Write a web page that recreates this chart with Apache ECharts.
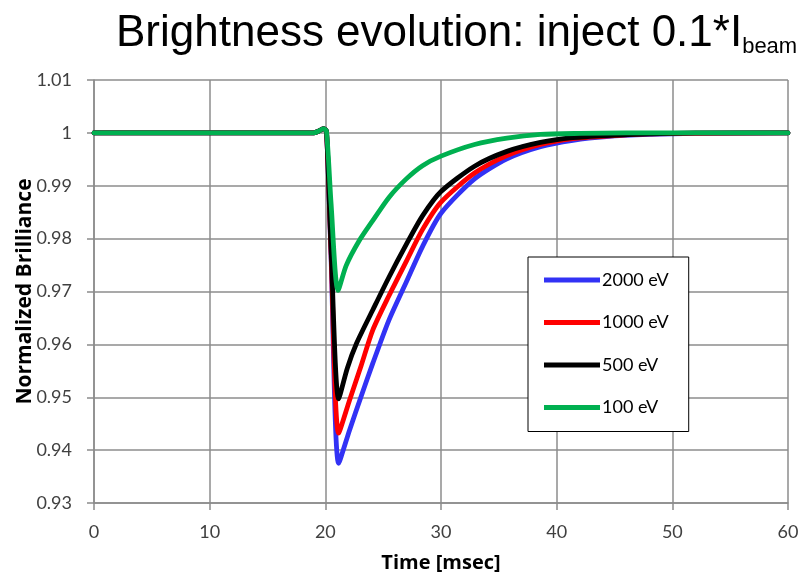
<!DOCTYPE html>
<html>
<head>
<meta charset="utf-8">
<script src="https://cdn.jsdelivr.net/npm/echarts@6/dist/echarts.min.js"></script>
<style>
html,body{margin:0;padding:0;background:#fff;}
#c{width:800px;height:573px;}
</style>
</head>
<body>
<div id="c"></div>
<script>
// ---- data ----
const seriesNames = ['2000 eV', '1000 eV', '500 eV', '100 eV'];
const seriesColors = ['#3232F5', '#FF0000', '#000000', '#00B050'];

const t2000 = [0, 19, 19.4, 19.85, 20.1, 20.5, 21.15, 22.1, 23.1, 24.1, 25.5, 27, 28.4, 30, 32.9, 35.7, 38.6, 41.4, 44.3, 48, 52, 60];
const v2000 = [1, 1, 1.0003, 1.0008, 1.0003, 0.9762, 0.9375, 0.9438, 0.9502, 0.9564, 0.9646, 0.9718, 0.9785, 0.9848, 0.9913, 0.9951, 0.9974, 0.9986, 0.9993, 0.9997, 0.9999, 1];

const t1000 = [0, 19, 19.4, 19.85, 20.1, 20.5, 21.15, 22.1, 23.1, 24.1, 25.5, 27, 28.4, 30, 32.9, 35.7, 38.6, 41.4, 44.3, 48, 52, 60];
const v1000 = [1, 1, 1.0003, 1.0008, 1.0003, 0.9770, 0.9432, 0.9495, 0.9560, 0.9627, 0.9692, 0.9757, 0.9817, 0.9869, 0.9924, 0.9957, 0.9978, 0.9989, 0.9994, 0.9998, 0.9999, 1];

const t500 = [0, 19, 19.4, 19.85, 20.1, 20.5, 21.15, 21.9, 22.7, 24.1, 25.5, 27, 28.4, 30, 32.9, 35.7, 38.6, 41.4, 44.3, 48, 52, 60];
const v500 = [1, 1, 1.0003, 1.0008, 1.0003, 0.9780, 0.9497, 0.9555, 0.9602, 0.9665, 0.9727, 0.9789, 0.9843, 0.9889, 0.9937, 0.9965, 0.9982, 0.9991, 0.9995, 0.9998, 1, 1];

const t100 = [0, 19, 19.4, 19.85, 20.1, 20.5, 21.1, 21.8, 22.9, 24.1, 25.5, 27, 28.4, 30, 32.9, 35.7, 38.6, 42, 46, 60];
const v100 = [1, 1, 1.0003, 1.0008, 1.0003, 0.9865, 0.9702, 0.9749, 0.9795, 0.9834, 0.9878, 0.9913, 0.9938, 0.9956, 0.9978, 0.9990, 0.9997, 0.9999, 1, 1];

const xTicks = [0, 10, 20, 30, 40, 50, 60];
const yTicks = [0.93, 0.94, 0.95, 0.96, 0.97, 0.98, 0.99, 1, 1.01];

const times = [t2000, t1000, t500, t100];
const values = [v2000, v1000, v500, v100];

// ---- chart ----
const chart = echarts.init(document.getElementById('c'), null, {renderer: 'canvas'});
const labelFont = 'Lato, "Open Sans", sans-serif';
const nameFont = '"Open Sans", Lato, sans-serif';
const gridColor = '#8C8C8C';

const series = seriesNames.map((name, i) => ({
  name: name,
  type: 'line',
  data: times[i].map((t, k) => [t, values[i][k]]),
  showSymbol: false,
  symbol: 'none',
  smooth: 0.25,
  lineStyle: {color: seriesColors[i], width: 4.8, join: 'round', cap: 'round'},
  itemStyle: {color: seriesColors[i]},
  z: 2 + i
}));

chart.setOption({
  animation: false,
  backgroundColor: '#ffffff',
  title: {
    text: 'Brightness evolution: inject 0.1*I{sub|beam}',
    left: 116,
    top: 10,
    padding: 0,
    textStyle: {
      fontFamily: '"Liberation Sans", Arial, sans-serif',
      fontSize: 44,
      fontWeight: 'normal',
      color: '#000',
      lineHeight: 48,
      rich: {
        sub: {fontFamily: '"Liberation Sans", Arial, sans-serif', fontSize: 22, color: '#000', lineHeight: 6, verticalAlign: 'bottom'}
      }
    }
  },
  grid: {left: 94, right: 12, top: 80, bottom: 70, containLabel: false, outerBoundsMode: 'none'},
  legend: {
    orient: 'vertical',
    left: 528,
    top: 257,
    data: seriesNames,
    backgroundColor: '#fff',
    borderColor: '#000',
    borderWidth: 1,
    borderRadius: 0,
    padding: [14, 20, 15, 16],
    itemGap: 24.5,
    itemWidth: 56,
    itemHeight: 19,
    icon: 'path://M0,0 L56,0 L56,5 L0,5 Z',
    textStyle: {fontFamily: labelFont, fontSize: 18, color: '#000', padding: [0, 0, 0, -3]}
  },
  xAxis: {
    type: 'value',
    min: 0, max: 60, interval: 10,
    name: 'Time [msec]',
    nameLocation: 'middle',
    nameGap: 50,
    nameMoveOverlap: false,
    nameTextStyle: {fontFamily: nameFont, fontSize: 20, fontWeight: 'bold', color: '#000'},
    axisLine: {show: true, lineStyle: {color: gridColor, width: 1.5}},
    axisTick: {show: true, length: 7, inside: false, lineStyle: {color: gridColor, width: 1.5}},
    axisLabel: {fontFamily: labelFont, fontSize: 18, color: '#404040', margin: 20},
    splitLine: {show: true, lineStyle: {color: gridColor, width: 1.5}}
  },
  yAxis: {
    type: 'value',
    min: 0.93, max: 1.01, interval: 0.01,
    name: 'Normalized Brilliance',
    nameLocation: 'middle',
    nameGap: 58,
    nameMoveOverlap: false,
    nameTextStyle: {fontFamily: nameFont, fontSize: 21, fontWeight: 'bold', color: '#000'},
    axisLine: {show: true, lineStyle: {color: gridColor, width: 1.5}},
    axisTick: {show: true, length: 7, inside: false, lineStyle: {color: gridColor, width: 1.5}},
    axisLabel: {
      fontFamily: labelFont, fontSize: 18, color: '#404040', margin: 22,
      formatter: v => String(parseFloat(Number(v).toFixed(2)))
    },
    splitLine: {show: true, lineStyle: {color: gridColor, width: 1.5}}
  },
  series: series
});
</script>
</body>
</html>
